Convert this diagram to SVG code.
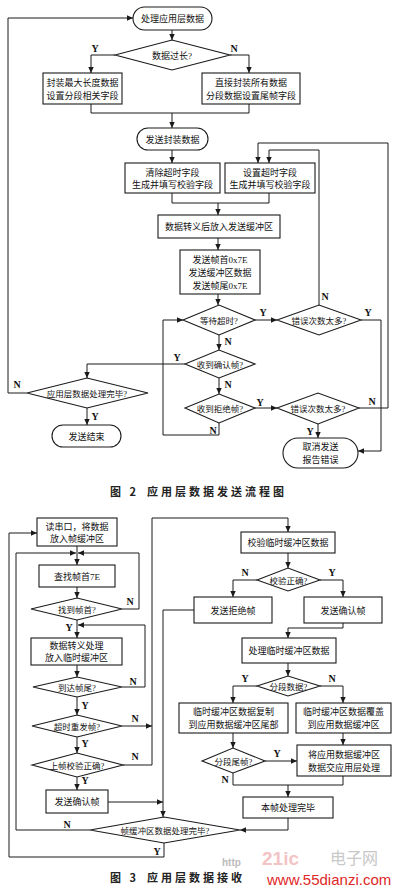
<svg xmlns="http://www.w3.org/2000/svg" width="400" height="893" viewBox="0 0 400 893">
<style>
.bx{fill:#fff;stroke:#1a1a1a;stroke-width:1.1}
.ln{fill:none;stroke:#1a1a1a;stroke-width:1}
.ar{fill:none;stroke:#1a1a1a;stroke-width:1;marker-end:url(#ah)}
.t{font-family:"Liberation Serif","Noto Sans CJK SC",sans-serif;font-size:9px;text-anchor:middle;fill:#111}
.s{font-size:8.5px}
.yn{font-family:"Liberation Serif",serif;font-size:10px;font-weight:bold;fill:#111;text-anchor:middle}
.cap{font-family:"Noto Sans CJK SC",sans-serif;font-size:11px;font-weight:bold;fill:#222;letter-spacing:3px}
</style>
<defs>
<marker id="ah" viewBox="0 0 10 10" refX="10" refY="5" markerWidth="7" markerHeight="6" markerUnits="userSpaceOnUse" orient="auto">
<path d="M0,0.5 L10,5 L0,9.5 z" fill="#1a1a1a"/>
</marker>
</defs>
<rect width="400" height="893" fill="#fff"/>

<g id="connectors">
<!-- figure 2 -->
<line class="ar" x1="172" y1="30" x2="172" y2="40"/>
<polyline class="ar" points="115,55 91,55 91,73"/>
<polyline class="ar" points="230,55 249,55 249,73"/>
<polyline class="ln" points="91,104 91,113 249,113 249,104"/>
<line class="ar" x1="172" y1="113" x2="172" y2="128"/>
<line class="ar" x1="172" y1="150" x2="172" y2="163"/>
<polyline class="ln" points="172,193 172,203 269,203 269,193"/>
<line class="ar" x1="218" y1="203" x2="218" y2="215"/>
<line class="ar" x1="218" y1="238" x2="218" y2="250"/>
<line class="ar" x1="218" y1="294" x2="218" y2="305"/>
<line class="ar" x1="255" y1="320" x2="277" y2="320"/>
<polyline class="ar" points="319,305 319,150 269,150 269,163"/>
<polyline class="ar" points="361,320 381,320 381,451 358,451"/>
<line class="ar" x1="219" y1="335" x2="219" y2="350"/>
<polyline class="ar" points="185,364 87,364 87,378"/>
<polyline class="ar" points="27,393 8,393 8,18 133,18"/>
<line class="ar" x1="87" y1="408" x2="87" y2="425"/>
<line class="ar" x1="219" y1="378" x2="219" y2="394"/>
<line class="ar" x1="255" y1="408" x2="277" y2="408"/>
<polyline class="ar" points="219,423 219,435 163,435 163,320 183,320"/>
<line class="ar" x1="318" y1="424" x2="318" y2="438"/>
<polyline class="ar" points="359,408 388,408 388,143 258,143 258,163"/>
<!-- figure 3 -->
<line class="ar" x1="77" y1="546" x2="77" y2="565"/>
<polyline class="ar" points="16,830 16,553 76,553"/>
<polyline class="ar" points="122,609 139,609 139,553 78,553"/>
<line class="ar" x1="77" y1="587" x2="77" y2="598"/>
<line class="ar" x1="77" y1="620" x2="77" y2="638"/>
<polyline class="ar" points="122,687 145,687 145,625 78,625"/>
<line class="ar" x1="77" y1="665" x2="77" y2="677"/>
<line class="ar" x1="77" y1="697" x2="77" y2="715"/>
<line class="ar" x1="122" y1="726" x2="152" y2="726"/>
<line class="ar" x1="77" y1="737" x2="77" y2="753"/>
<polyline class="ar" points="123,765 152,765 152,518 288,518 288,532"/>
<line class="ar" x1="77" y1="777" x2="77" y2="790"/>
<line class="ar" x1="108" y1="802" x2="163" y2="802"/>
<polyline class="ln" points="90,830 16,830"/>
<polyline class="ar" points="164,843 164,857 9,857 9,533 37,533"/>
<polyline class="ar" points="194,610 163,610 163,817"/>
<line class="ar" x1="288" y1="553" x2="288" y2="568"/>
<polyline class="ar" points="257,580 233,580 233,597"/>
<polyline class="ar" points="320,580 343,580 343,597"/>
<polyline class="ln" points="343,623 343,628 288,628"/>
<line class="ar" x1="288" y1="628" x2="288" y2="638"/>
<line class="ar" x1="288" y1="663" x2="288" y2="676"/>
<polyline class="ar" points="257,686 233,686 233,703"/>
<polyline class="ar" points="320,686 343,686 343,703"/>
<line class="ar" x1="233" y1="733" x2="233" y2="748"/>
<line class="ar" x1="265" y1="761" x2="297" y2="761"/>
<line class="ar" x1="343" y1="733" x2="343" y2="745"/>
<polyline class="ln" points="233,773 233,785 343,785 343,776"/>
<line class="ar" x1="288" y1="785" x2="288" y2="797"/>
<polyline class="ar" points="288,818 288,830 240,830"/>
</g>

<g id="labels">
<text class="yn" x="95" y="52">Y</text>
<text class="yn" x="234" y="52">N</text>
<text class="yn" x="263" y="316">Y</text>
<text class="yn" x="325" y="300">N</text>
<text class="yn" x="368" y="316">Y</text>
<text class="yn" x="228" y="345">N</text>
<text class="yn" x="177" y="361">Y</text>
<text class="yn" x="17" y="388">N</text>
<text class="yn" x="95" y="420">Y</text>
<text class="yn" x="228" y="388">N</text>
<text class="yn" x="260" y="406">Y</text>
<text class="yn" x="213" y="434">N</text>
<text class="yn" x="310" y="435">Y</text>
<text class="yn" x="372" y="405">N</text>
<text class="yn" x="130" y="605">N</text>
<text class="yn" x="69" y="631">Y</text>
<text class="yn" x="133" y="685">N</text>
<text class="yn" x="85" y="709">Y</text>
<text class="yn" x="135" y="722">N</text>
<text class="yn" x="85" y="747">Y</text>
<text class="yn" x="135" y="760">N</text>
<text class="yn" x="85" y="784">Y</text>
<text class="yn" x="67" y="828">N</text>
<text class="yn" x="157" y="855">Y</text>
<text class="yn" x="245" y="576">N</text>
<text class="yn" x="332" y="576">Y</text>
<text class="yn" x="245" y="682">Y</text>
<text class="yn" x="332" y="682">N</text>
<text class="yn" x="277" y="757">Y</text>
<text class="yn" x="225" y="783">N</text>
</g>

<!-- Figure 2 nodes -->
<g id="f2-start"><rect class="bx" x="133" y="7" width="79" height="23" rx="11.5"/><text class="t" x="172.5" y="22">处理应用层数据</text></g>
<g id="f2-too-long"><polygon class="bx" points="115,55 172,40 230,55 172,70"/><text class="t" x="172" y="58.5">数据过长?</text></g>
<g id="f2-pack-max"><rect class="bx" x="43" y="73" width="79" height="31"/><text class="t" x="82.5" y="86">封装最大长度数据</text><text class="t" x="82.5" y="99">设置分段相关字段</text></g>
<g id="f2-pack-all"><rect class="bx" x="202" y="73" width="98" height="31"/><text class="t" x="251" y="86">直接封装所有数据</text><text class="t" x="251" y="99">分段数据设置尾帧字段</text></g>
<g id="f2-send-packed"><rect class="bx" x="137" y="128" width="71" height="22" rx="11"/><text class="t" x="172.5" y="142.5">发送封装数据</text></g>
<g id="f2-clear-timeout"><rect class="bx" x="125" y="163" width="95" height="30"/><text class="t" x="172.5" y="175.5">清除超时字段</text><text class="t" x="172.5" y="188">生成并填写校验字段</text></g>
<g id="f2-set-timeout"><rect class="bx" x="225" y="163" width="90" height="30"/><text class="t" x="270" y="175.5">设置超时字段</text><text class="t" x="270" y="188">生成并填写校验字段</text></g>
<g id="f2-escape"><rect class="bx" x="158" y="215" width="122" height="23"/><text class="t" x="219" y="230">数据转义后放入发送缓冲区</text></g>
<g id="f2-send-frame"><rect class="bx" x="180" y="250" width="80" height="44"/><text class="t" x="220" y="262.5">发送帧首0x7E</text><text class="t" x="220" y="275.5">发送缓冲区数据</text><text class="t" x="220" y="288.5">发送帧尾0x7E</text></g>
<g id="f2-wait-timeout"><polygon class="bx" points="183,320 219,305 255,320 219,335"/><text class="t s" x="219" y="323.5">等待超时?</text></g>
<g id="f2-err-upper"><polygon class="bx" points="277,320 319,305 361,320 319,335"/><text class="t s" x="319" y="323.5">错误次数太多?</text></g>
<g id="f2-ack"><polygon class="bx" points="185,364 219,350 255,364 219,378"/><text class="t s" x="220" y="367.5">收到确认帧?</text></g>
<g id="f2-app-done"><polygon class="bx" points="27,393 87,378 148,393 87,408"/><text class="t s" x="87" y="396.5">应用层数据处理完毕?</text></g>
<g id="f2-end"><rect class="bx" x="52" y="425" width="69" height="22" rx="11"/><text class="t" x="86.5" y="439.5">发送结束</text></g>
<g id="f2-reject"><polygon class="bx" points="185,408 219,394 255,408 219,423"/><text class="t s" x="220" y="411.5">收到拒绝帧?</text></g>
<g id="f2-err-lower"><polygon class="bx" points="277,408 318,393 359,408 318,424"/><text class="t s" x="318" y="411.5">错误次数太多?</text></g>
<g id="f2-cancel"><rect class="bx" x="283" y="438" width="75" height="30" rx="15"/><text class="t" x="320.5" y="450">取消发送</text><text class="t" x="320.5" y="462.5">报告错误</text></g>
<g id="caption2"><text class="cap" x="110" y="496">图 2</text><text class="cap" x="147" y="496">应用层数据发送流程图</text></g>

<!-- Figure 3 nodes -->
<g id="f3-read"><rect class="bx" x="37" y="518" width="80" height="28"/><text class="t" x="77" y="529.5">读串口，将数据</text><text class="t" x="77" y="542">放入帧缓冲区</text></g>
<g id="f3-find-head"><rect class="bx" x="39" y="565" width="76" height="22"/><text class="t" x="77" y="579.5">查找帧首7E</text></g>
<g id="f3-head-found"><polygon class="bx" points="31,609 77,598 122,609 77,620"/><text class="t s" x="77" y="612.5">找到帧首?</text></g>
<g id="f3-escape"><rect class="bx" x="31" y="638" width="91" height="27"/><text class="t" x="76.5" y="649">数据转义处理</text><text class="t" x="76.5" y="661">放入临时缓冲区</text></g>
<g id="f3-tail"><polygon class="bx" points="33,687 77,677 122,687 77,697"/><text class="t s" x="77" y="690.5">到达帧尾?</text></g>
<g id="f3-resend"><polygon class="bx" points="32,726 77,715 122,726 77,737"/><text class="t s" x="77" y="729.5">超时重发帧?</text></g>
<g id="f3-prev-ok"><polygon class="bx" points="32,765 77,753 123,765 77,777"/><text class="t s" x="77" y="768.5">上帧校验正确?</text></g>
<g id="f3-send-ack-left"><rect class="bx" x="46" y="790" width="62" height="23"/><text class="t" x="77" y="805">发送确认帧</text></g>
<g id="f3-buf-done"><polygon class="bx" points="90,830 164,817 240,830 164,843"/><text class="t s" x="165" y="833.5">帧缓冲区数据处理完毕?</text></g>
<g id="f3-verify"><rect class="bx" x="241" y="532" width="94" height="21"/><text class="t" x="288" y="546">校验临时缓冲区数据</text></g>
<g id="f3-verify-ok"><polygon class="bx" points="257,580 288,568 320,580 288,591"/><text class="t s" x="288.5" y="583.5">校验正确?</text></g>
<g id="f3-send-reject"><rect class="bx" x="194" y="597" width="78" height="26"/><text class="t" x="233" y="613.5">发送拒绝帧</text></g>
<g id="f3-send-ack-right"><rect class="bx" x="304" y="597" width="78" height="26"/><text class="t" x="343" y="613.5">发送确认帧</text></g>
<g id="f3-process"><rect class="bx" x="242" y="638" width="94" height="25"/><text class="t" x="289" y="653.5">处理临时缓冲区数据</text></g>
<g id="f3-segmented"><polygon class="bx" points="257,686 288,676 320,686 288,696"/><text class="t s" x="288.5" y="689.5">分段数据?</text></g>
<g id="f3-copy"><rect class="bx" x="179" y="703" width="109" height="30"/><text class="t" x="233.5" y="715">临时缓冲区数据复制</text><text class="t" x="233.5" y="728">到应用数据缓冲区尾部</text></g>
<g id="f3-overwrite"><rect class="bx" x="296" y="703" width="95" height="30"/><text class="t" x="343.5" y="715">临时缓冲区数据覆盖</text><text class="t" x="343.5" y="728">到应用数据缓冲区</text></g>
<g id="f3-seg-tail"><polygon class="bx" points="202,761 233,748 265,761 233,773"/><text class="t s" x="233.5" y="764.5">分段尾帧?</text></g>
<g id="f3-deliver"><rect class="bx" x="297" y="745" width="94" height="31"/><text class="t" x="344" y="758">将应用数据缓冲区</text><text class="t" x="344" y="771">数据交应用层处理</text></g>
<g id="f3-frame-done"><rect class="bx" x="243" y="797" width="90" height="21"/><text class="t" x="288" y="811">本帧处理完毕</text></g>

<g id="watermark">
<text x="262" y="865" font-family="Liberation Sans,sans-serif" font-size="19" font-weight="bold" fill="#f3c4c4">21ic</text>
<text x="330" y="864" font-family="Noto Sans CJK SC,sans-serif" font-size="16" fill="#c8c8c8">电子网</text>
<text x="222" y="866" font-family="Liberation Sans,sans-serif" font-size="10" font-weight="bold" fill="#bbb">http</text>
</g>
<g id="caption3"><text class="cap" x="110" y="882">图 3</text><text class="cap" x="147" y="882">应用层数据接收</text></g>
<text x="267" y="885" font-family="Liberation Sans,sans-serif" font-size="15" fill="#e02828">www.55dianzi.com</text>
</svg>
